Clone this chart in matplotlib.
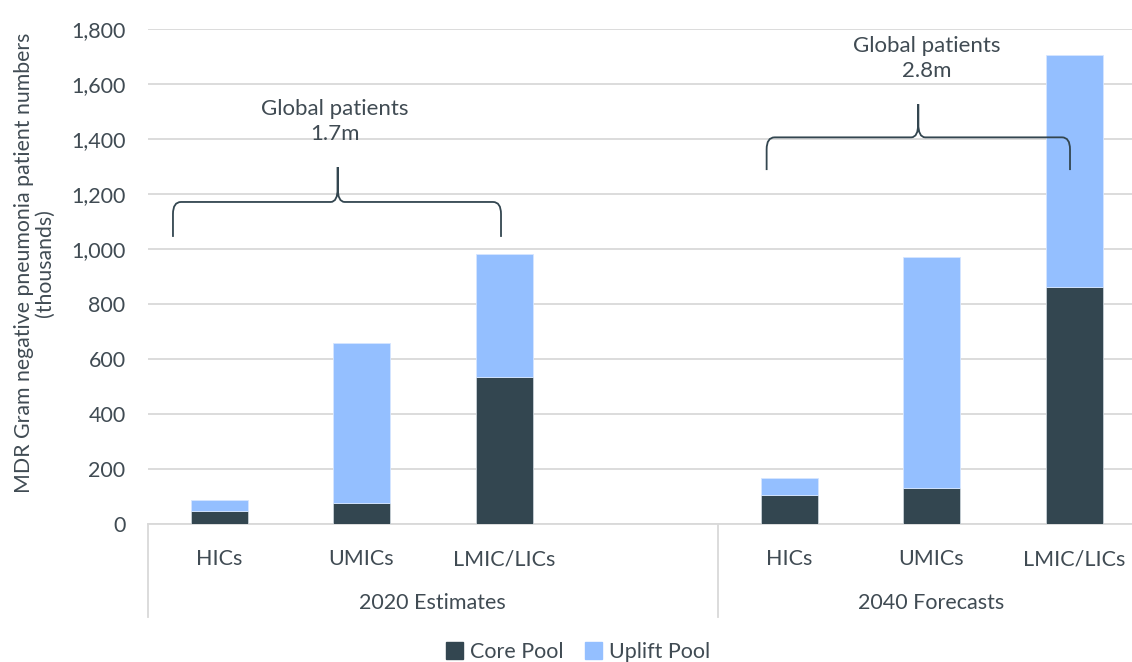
import matplotlib.pyplot as plt
from matplotlib.path import Path
from matplotlib.patches import PathPatch, Patch
import matplotlib.transforms as mtransforms
import numpy as np

plt.rcParams['font.family'] = ['Lato', 'DejaVu Sans']

# bar slots: 2020 has 3 bars plus one empty slot, 2040 has 3 bars
categories = ["HICs", "UMICs", "LMIC/LICs", "", "HICs", "UMICs", "LMIC/LICs"]
groups = ["2020 Estimates", "2040 Forecasts"]
group_sizes = [4, 3]
core_pool = [48, 77, 535, 0, 107, 131, 862]
uplift_pool = [38, 581, 447, 0, 61, 840, 845]
totals_text = ["Global patients\n1.7m", "Global patients\n2.8m"]

text_color = "#404b53"
core_color = "#334650"
uplift_color = "#94bfff"
grid_color = "#d9d9d9"
fs = 15.5

fig = plt.figure(figsize=(11.32, 6.62), dpi=100)
ax = fig.add_axes([147.75 / 1132, 138 / 662, 997.5 / 1132, 495 / 662])

x = np.arange(len(categories))
ax.bar(x, core_pool, width=0.4, color=core_color, edgecolor="#c9d1d8", linewidth=0.6,
       label="Core Pool", zorder=3)
ax.bar(x, uplift_pool, width=0.4, bottom=core_pool, color=uplift_color,
       edgecolor="#d6e6ff", linewidth=0.6, label="Uplift Pool", zorder=3)

ax.set_xlim(-0.5, len(categories) - 0.5)
ax.set_ylim(0, 1800)
ax.set_yticks(np.arange(0, 1801, 200))
ax.set_yticklabels([f"{v:,}" for v in range(0, 1801, 200)])
ax.yaxis.grid(True, color=grid_color, linewidth=1.3, zorder=0)
ax.set_axisbelow(True)
for s in ["top", "right", "left"]:
    ax.spines[s].set_visible(False)
ax.spines["bottom"].set_color(grid_color)
ax.spines["bottom"].set_linewidth(1.3)
ax.tick_params(axis="y", length=0, pad=16, labelsize=fs, labelcolor=text_color)
ax.tick_params(axis="x", length=0, pad=18, labelsize=fs, labelcolor=text_color)
ax.set_xticks(x)
ax.set_xticklabels(categories)

ax.set_ylabel("MDR Gram negative pneumonia patient numbers\n(thousands)",
              fontsize=15.3, color=text_color, linespacing=1.05)
ax.yaxis.set_label_coords(-93 / 997.5, (524 - 263) / 495)

# group labels and separators below the category axis
trans = mtransforms.blended_transform_factory(ax.transData, ax.transAxes)
px_y = 1 / 495
start = -0.5
edges = [start]
for name, n in zip(groups, group_sizes):
    ax.text(start + n / 2, -79 * px_y, name, transform=trans, ha="center", va="center",
            fontsize=fs, color=text_color)
    start += n
    edges.append(start)
for e in edges:
    ax.plot([e, e], [0, -93 * px_y], transform=trans, color=grid_color, linewidth=1.3,
            clip_on=False)


def brace(x0, x1, xc, yb, yh, yt):
    # curly bracket opening downwards, spike at xc
    rx, ry = 8 / 142.5, 12 / 0.275
    sx, sy = 7 / 142.5, 14 / 0.275
    verts, codes = [], []
    for xe, sgn in [(x0, 1), (x1, -1)]:
        verts += [(xe, yb), (xe, yh - ry), (xe, yh), (xe + sgn * rx, yh),
                  (xc - sgn * sx, yh), (xc, yh), (xc, yh + sy), (xc, yt)]
        codes += [Path.MOVETO, Path.LINETO, Path.CURVE3, Path.CURVE3,
                  Path.LINETO, Path.CURVE3, Path.CURVE3, Path.LINETO]
    ax.add_patch(PathPatch(Path(verts, codes), facecolor="none", edgecolor=core_color,
                           linewidth=1.3, zorder=4))


brace(-0.323, 1.979, 0.833, 1044, 1171, 1298)
brace(3.843, 5.972, 4.907, 1287, 1406, 1527)
ax.text(0.814, 1465, totals_text[0], ha="center", va="center", fontsize=16,
        color=text_color, linespacing=1.3)
ax.text(4.964, 1693, totals_text[1], ha="center", va="center", fontsize=16,
        color=text_color, linespacing=1.3)

handles = [Patch(color=core_color, label="Core Pool"),
           Patch(color=uplift_color, label="Uplift Pool")]
fig.legend(handles=handles, loc="center", bbox_to_anchor=(578 / 1132, 1 - 652 / 662),
           ncol=2, frameon=False, fontsize=fs, handlelength=0.8, handleheight=0.8,
           handletextpad=0.3, columnspacing=1.0, labelcolor=text_color)

fig.savefig("out.png", dpi=100)
